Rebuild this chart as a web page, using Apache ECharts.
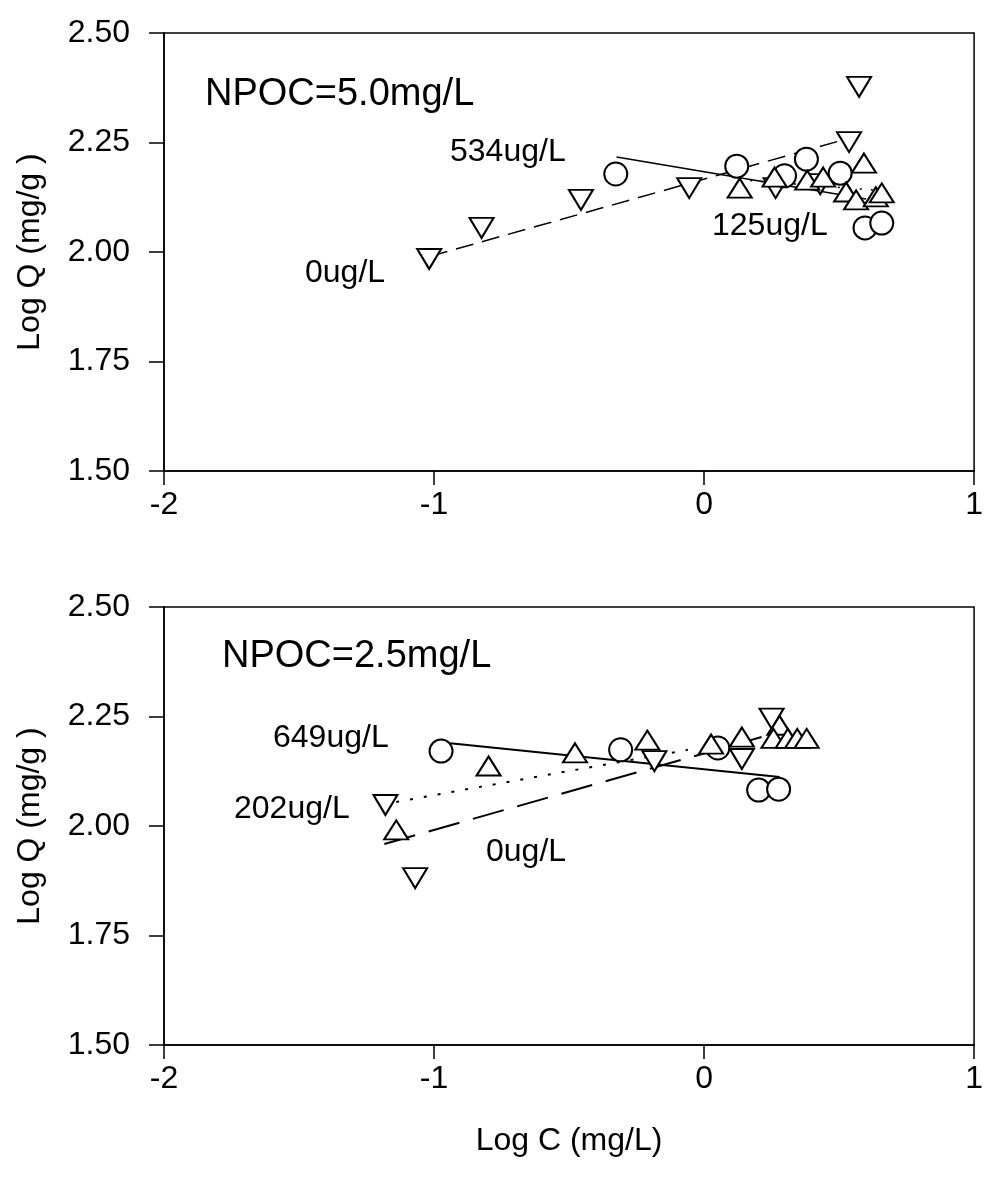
<!DOCTYPE html>
<html>
<head>
<meta charset="utf-8">
<script src="https://cdn.jsdelivr.net/npm/echarts@6/dist/echarts.min.js"></script>
<style>
html,body{margin:0;padding:0;background:#fff;}
#c{width:986px;height:1179px;}
</style>
</head>
<body>
<div id="c"></div>
<script>
// ---- Data (Log C, Log Q) ----
// Top panel: NPOC = 5.0 mg/L
const top0ug = [[-1.018,1.984],[-0.824,2.055],[-0.456,2.119],[-0.055,2.146],[0.265,2.146],[0.43,2.155],[0.537,2.251],[0.574,2.377]];
const top534ug = [[-0.327,2.178],[0.121,2.196],[0.298,2.174],[0.379,2.212],[0.504,2.18],[0.596,2.055],[0.658,2.066]];
const top125ug = [[0.132,2.146],[0.261,2.171],[0.382,2.164],[0.441,2.171],[0.526,2.137],[0.592,2.203],[0.563,2.119],[0.636,2.126],[0.658,2.135]];
const topFit0ug = [[-1.015,1.99],[0.55,2.262]];
const topFit534ug = [[-0.324,2.217],[0.6,2.121]];
const topFit125ug = [[0.13,2.165],[0.66,2.14]];
// Bottom panel: NPOC = 2.5 mg/L
const bot649ug = [[-0.974,2.171],[-0.309,2.174],[0.051,2.178],[0.202,2.082],[0.276,2.084]];
const bot0ug = [[-1.14,1.991],[-0.798,2.137],[-0.478,2.167],[-0.21,2.196],[0.026,2.187],[0.14,2.203],[0.279,2.23],[0.257,2.2],[0.31,2.2],[0.345,2.2],[0.38,2.2]];
const bot202ug = [[-1.18,2.048],[-1.07,1.881],[-0.184,2.148],[0.14,2.153],[0.25,2.245]];
const botFit649ug = [[-0.94,2.189],[0.28,2.112]];
const botFit202ug = [[-1.14,2.055],[-0.06,2.174]];
const botFit0ug = [[-1.184,1.959],[0.213,2.203]];
// Axes
const xTicks = {min:-2, max:1, interval:1};
const yTicks = {min:1.5, max:2.5, interval:0.25};
const xName = 'Log C (mg/L)';
const yName = 'Log Q (mg/g )';

const FONT = '"Liberation Sans", Arial, sans-serif';
const chart = echarts.init(document.getElementById('c'));

function xAx(gi, withName){
  return {
    type:'value', gridIndex:gi, min:xTicks.min, max:xTicks.max, interval:xTicks.interval,
    name: withName ? xName : '', nameLocation:'middle', nameGap:80,
    nameTextStyle:{fontSize:32, color:'#000', fontFamily:FONT},
    axisLine:{show:true, onZero:false, lineStyle:{color:'#000', width:1.5}},
    axisTick:{show:true, inside:false, length:14, lineStyle:{color:'#000', width:1.5}},
    axisLabel:{fontSize:32, color:'#000', fontFamily:FONT, margin:18},
    splitLine:{show:false}
  };
}
function yAx(gi){
  return {
    type:'value', gridIndex:gi, min:yTicks.min, max:yTicks.max, interval:yTicks.interval,
    name:yName, nameLocation:'middle', nameGap:118,
    nameTextStyle:{fontSize:32, color:'#000', fontFamily:FONT},
    axisLine:{show:true, onZero:false, lineStyle:{color:'#000', width:1.5}},
    axisTick:{show:true, inside:false, length:15, lineStyle:{color:'#000', width:1.5}},
    axisLabel:{fontSize:32, color:'#000', fontFamily:FONT, margin:34, formatter:v=>v.toFixed(2)},
    splitLine:{show:false}
  };
}
function sc(gi, data, sym, rot, size){
  return {type:'scatter', xAxisIndex:gi, yAxisIndex:gi, data:data, symbol:sym, symbolRotate:rot, symbolSize:size,
    itemStyle:{color:'#fff', borderColor:'#000', borderWidth:2, opacity:1}, z:3, silent:true};
}
function ln(gi, data, type, width){
  return {type:'line', xAxisIndex:gi, yAxisIndex:gi, data:data, symbol:'none', z:2, silent:true,
    lineStyle:{color:'#000', width:width, type:type}};
}
function txt(x, y, s, size){
  return {type:'text', x:x, y:y, z:10, style:{text:s, fontSize:size, fontFamily:FONT, fill:'#000', verticalAlign:'middle', align:'left'}};
}

chart.setOption({
  animation:false,
  backgroundColor:'#fff',
  grid:[
    {left:164, width:816, top:33, height:438, show:true, borderColor:'#000', borderWidth:1.5},
    {left:164, width:816, top:607, height:438, show:true, borderColor:'#000', borderWidth:1.5}
  ],
  xAxis:[xAx(0,false), xAx(1,true)],
  yAxis:[yAx(0), yAx(1)],
  series:[
    ln(0, topFit0ug, [18,9], 1.5),
    ln(0, topFit534ug, 'solid', 1.5),
    ln(0, topFit125ug, [2,9], 1.5),
    sc(0, top0ug, 'triangle', 180, [24,20]),
    sc(0, top534ug, 'circle', 0, 23),
    sc(0, top125ug, 'triangle', 0, [24,19]),
    ln(1, botFit649ug, 'solid', 2),
    ln(1, botFit202ug, [3,11], 2),
    ln(1, botFit0ug, [32,14], 2),
    sc(1, bot649ug, 'circle', 0, 23),
    sc(1, bot0ug, 'triangle', 0, [24,19]),
    sc(1, bot202ug, 'triangle', 180, [24,20])
  ],
  graphic:[
    txt(205, 95, 'NPOC=5.0mg/L', 38),
    txt(450, 152, '534ug/L', 32),
    txt(305, 273, '0ug/L', 32),
    txt(712, 226, '125ug/L', 32),
    txt(222, 657, 'NPOC=2.5mg/L', 38),
    txt(273, 738, '649ug/L', 32),
    txt(234, 809, '202ug/L', 32),
    txt(486, 852, '0ug/L', 32)
  ]
});
</script>
</body>
</html>
